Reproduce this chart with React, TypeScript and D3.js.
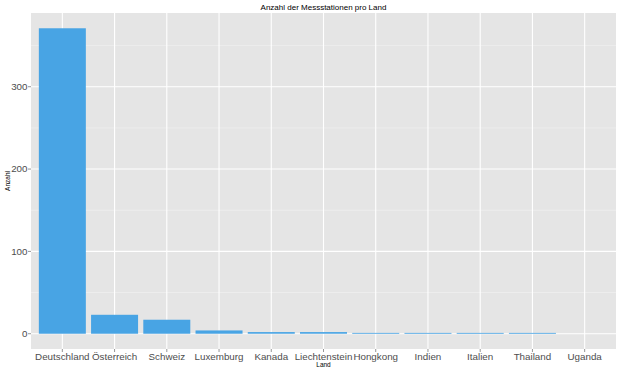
import { useEffect, useRef } from "react"
import * as d3 from "d3"

const laender = [
  "Deutschland",
  "Österreich",
  "Schweiz",
  "Luxemburg",
  "Kanada",
  "Liechtenstein",
  "Hongkong",
  "Indien",
  "Italien",
  "Thailand",
  "Uganda",
]
const anzahl = [371, 23, 17, 4, 2, 2, 1, 1, 1, 1, 0]
const yTicks = [0, 100, 200, 300]
const yMinor = [50, 150, 250, 350]

export default function App() {
  const svgRef = useRef<SVGSVGElement>(null)

  useEffect(() => {
    if (!svgRef.current) return
    d3.select(svgRef.current).selectAll("*").remove()

    const W = 620
    const H = 372
    const margin = { top: 13, right: 4, bottom: 23, left: 31 }
    const width = W - margin.left - margin.right
    const height = H - margin.top - margin.bottom

    const svg = d3.select(svgRef.current).attr("width", W).attr("height", H)
    const g = svg.append("g").attr("transform", `translate(${margin.left},${margin.top})`)

    // ggplot-like expansion: 0.6 units on discrete, 5% on continuous
    const x = d3
      .scaleBand()
      .domain(laender)
      .range([0, width])
      .paddingInner(0.1)
      .paddingOuter(0.15)

    const maxVal = d3.max(anzahl) || 0
    const pad = maxVal * 0.05
    const y = d3.scaleLinear().domain([-pad, maxVal + pad]).range([height, 0])

    // Panel background
    g.append("rect")
      .attr("width", width)
      .attr("height", height)
      .attr("fill", "#E5E5E5")

    // Minor grid
    g.selectAll(".minor")
      .data(yMinor)
      .enter()
      .append("line")
      .attr("x1", 0)
      .attr("x2", width)
      .attr("y1", d => y(d))
      .attr("y2", d => y(d))
      .attr("stroke", "#F2F2F2")
      .attr("stroke-width", 0.6)

    // Major grid
    g.selectAll(".major")
      .data(yTicks)
      .enter()
      .append("line")
      .attr("x1", 0)
      .attr("x2", width)
      .attr("y1", d => y(d))
      .attr("y2", d => y(d))
      .attr("stroke", "#FFFFFF")
      .attr("stroke-width", 1.1)

    g.selectAll(".vgrid")
      .data(laender)
      .enter()
      .append("line")
      .attr("x1", d => (x(d) || 0) + x.bandwidth() / 2)
      .attr("x2", d => (x(d) || 0) + x.bandwidth() / 2)
      .attr("y1", 0)
      .attr("y2", height)
      .attr("stroke", "#FFFFFF")
      .attr("stroke-width", 1.1)

    // Bars
    g.selectAll(".bar")
      .data(laender)
      .enter()
      .append("rect")
      .attr("x", d => x(d) || 0)
      .attr("width", x.bandwidth())
      .attr("y", (d, i) => y(anzahl[i]))
      .attr("height", (d, i) => y(0) - y(anzahl[i]))
      .attr("fill", "#48A4E4")

    const font = "Liberation Sans, Arial, sans-serif"

    // Y axis ticks + labels
    const yAxis = g.append("g")
    yTicks.forEach(t => {
      yAxis
        .append("line")
        .attr("x1", -3)
        .attr("x2", 0)
        .attr("y1", y(t))
        .attr("y2", y(t))
        .attr("stroke", "#4D4D4D")
        .attr("stroke-width", 0.6)
      yAxis
        .append("text")
        .attr("x", -3.5)
        .attr("y", y(t))
        .attr("dy", "0.35em")
        .attr("text-anchor", "end")
        .attr("font-family", font)
        .attr("font-size", "9.8px")
        .attr("fill", "#4D4D4D")
        .text(String(t))
    })

    // X axis ticks + labels
    const xAxis = g.append("g").attr("transform", `translate(0,${height})`)
    laender.forEach(l => {
      const cx = (x(l) || 0) + x.bandwidth() / 2
      xAxis
        .append("line")
        .attr("x1", cx)
        .attr("x2", cx)
        .attr("y1", 0)
        .attr("y2", 3)
        .attr("stroke", "#4D4D4D")
        .attr("stroke-width", 0.6)
      xAxis
        .append("text")
        .attr("x", cx)
        .attr("y", 11)
        .attr("text-anchor", "middle")
        .attr("font-family", font)
        .attr("font-size", "9.8px")
        .attr("fill", "#4D4D4D")
        .text(l)
    })

    // Titles
    svg
      .append("text")
      .attr("x", margin.left + width / 2)
      .attr("y", 9.5)
      .attr("text-anchor", "middle")
      .attr("font-family", font)
      .attr("font-size", "8px")
      .attr("fill", "#000")
      .text("Anzahl der Messstationen pro Land")

    svg
      .append("text")
      .attr("x", margin.left + width / 2)
      .attr("y", 366.5)
      .attr("text-anchor", "middle")
      .attr("font-family", font)
      .attr("font-size", "6.5px")
      .attr("fill", "#000")
      .text("Land")

    svg
      .append("text")
      .attr("transform", `translate(9.5,${margin.top + height / 2}) rotate(-90)`)
      .attr("text-anchor", "middle")
      .attr("font-family", font)
      .attr("font-size", "6.5px")
      .attr("fill", "#000")
      .text("Anzahl")
  }, [])

  return (
    <div style={{ position: "absolute", left: 0, top: 0 }}>
      <svg ref={svgRef} style={{ display: "block" }} />
    </div>
  )
}
